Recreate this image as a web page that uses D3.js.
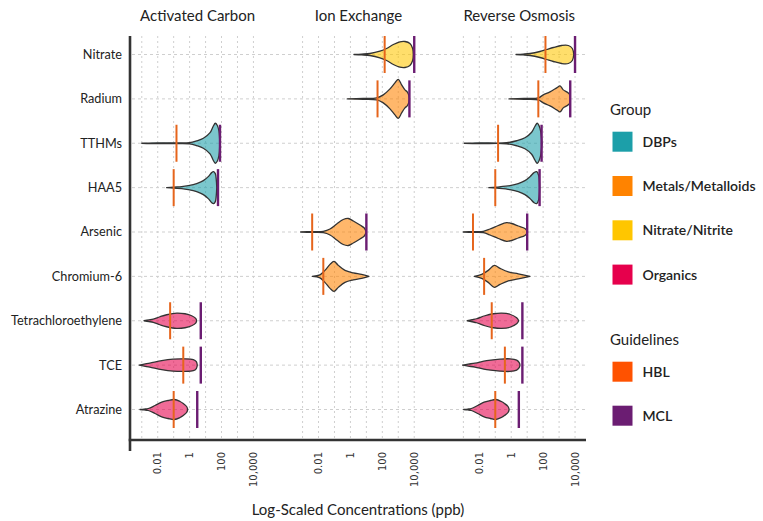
<!DOCTYPE html>
<html>
<head>
<meta charset="utf-8">
<script src="https://cdn.jsdelivr.net/npm/d3@7"></script>
<style>
  html, body { margin: 0; padding: 0; background: #fff; }
  svg { display: block; }
</style>
</head>
<body>
<svg id="chart" width="763" height="521"></svg>
<script>
// Treatment methods (facets) and contaminants (rows)
const treatments = ["Activated Carbon", "Ion Exchange", "Reverse Osmosis"];
const contaminants = ["Nitrate", "Radium", "TTHMs", "HAA5", "Arsenic",
  "Chromium-6", "Tetrachloroethylene", "TCE", "Atrazine"];
const contaminantGroup = ["Nitrate/Nitrite", "Metals/Metalloids", "DBPs", "DBPs",
  "Metals/Metalloids", "Metals/Metalloids", "Organics", "Organics", "Organics"];

const groupNames = ["DBPs", "Metals/Metalloids", "Nitrate/Nitrite", "Organics"];
const groupColors = ["#1c9fa9", "#ff8300", "#ffc600", "#e6004c"];

// Health-based limits and maximum contaminant levels (ppb)
const hblValues = [140, 50, 0.15, 0.1, 0.004, 0.02, 0.06, 0.4, 0.1];
const mclValues = [10000, 5000, 80, 60, 10, null, 5, 5, 3];
const guidelineNames = ["HBL", "MCL"];
const guidelineLegendColors = ["#ff5200", "#6b1d72"];
const guidelineLineColors = ["#e6651c", "#6b1d72"];

const tickValues = [0.01, 1, 100, 10000];
const gridValues = [0.001, 0.01, 0.1, 1, 10, 100, 1000, 10000];

// Density profiles after treatment: [log10 concentration (ppb), relative density]
const carbonProfiles = [
  ["TTHMs", [[-3.0, 0], [-2.0, 0.02], [-1.0, 0.02], [0.0, 0.03], [0.44, 0.12], [0.86, 0.25], [1.28, 0.53], [1.48, 0.85], [1.61, 1.0], [1.73, 0.9], [1.84, 0.6], [1.89, 0]]],
  ["HAA5", [[-1.44, 0], [-1.0, 0.03], [-0.5, 0.05], [-0.08, 0.1], [0.44, 0.2], [0.86, 0.35], [1.17, 0.55], [1.38, 0.75], [1.5, 0.8], [1.61, 0.7], [1.67, 0.4], [1.7, 0]]],
  ["Tetrachloroethylene", [[-2.86, 0], [-2.55, 0.04], [-2.28, 0.08], [-1.86, 0.2], [-1.44, 0.3], [-0.81, 0.385], [-0.29, 0.35], [0.13, 0.25], [0.38, 0.12], [0.44, 0]]],
  ["TCE", [[-3.16, 0], [-2.85, 0.05], [-2.49, 0.1], [-1.75, 0.225], [-1.03, 0.3], [-0.4, 0.315], [0.23, 0.28], [0.42, 0.17], [0.48, 0]]],
  ["Atrazine", [[-3.11, 0], [-2.85, 0.02], [-2.59, 0.05], [-2.17, 0.2], [-1.75, 0.37], [-1.34, 0.45], [-0.96, 0.5], [-0.6, 0.4], [-0.4, 0.3], [-0.19, 0.15], [-0.12, 0]]]
];
const ionExchangeProfiles = [
  ["Nitrate", [[0.22, 0], [0.7, 0.02], [1.22, 0.05], [1.85, 0.165], [2.27, 0.3], [2.69, 0.5], [3.1, 0.635], [3.42, 0.65], [3.73, 0.55], [3.9, 0.3], [3.94, 0]]],
  ["Radium", [[-0.2, 0], [0.8, 0.02], [1.64, 0.05], [2.06, 0.2], [2.48, 0.5], [2.79, 0.8], [3.0, 0.975], [3.21, 0.7], [3.42, 0.45], [3.56, 0.35], [3.65, 0.2], [3.69, 0]]],
  ["Arsenic", [[-3.12, 0], [-2.4, 0.02], [-1.7, 0.035], [-1.28, 0.15], [-0.86, 0.4], [-0.45, 0.625], [-0.13, 0.675], [0.18, 0.55], [0.6, 0.35], [0.87, 0.2], [0.99, 0]]],
  ["Chromium-6", [[-2.39, 0], [-1.91, 0.075], [-1.6, 0.3], [-1.28, 0.6], [-1.03, 0.75], [-0.76, 0.55], [-0.34, 0.3], [0.18, 0.175], [0.7, 0.1], [1.16, 0]]]
];
const reverseOsmosisProfiles = [
  ["Nitrate", [[0.3, 0], [0.75, 0.02], [1.18, 0.05], [1.8, 0.15], [2.22, 0.25], [2.64, 0.35], [3.16, 0.45], [3.58, 0.45], [3.83, 0.3], [3.92, 0]]],
  ["Radium", [[-0.14, 0], [0.8, 0.02], [1.7, 0.05], [2.01, 0.2], [2.43, 0.35], [2.85, 0.55], [3.06, 0.65], [3.26, 0.45], [3.48, 0.35], [3.64, 0.25], [3.7, 0]]],
  ["TTHMs", [[-2.94, 0], [-2.0, 0.02], [-0.29, 0.025], [0.34, 0.125], [0.86, 0.275], [1.28, 0.55], [1.49, 0.85], [1.63, 1.0], [1.8, 0.75], [1.93, 0]]],
  ["HAA5", [[-1.4, 0], [-0.9, 0.03], [-0.08, 0.1], [0.44, 0.2], [0.86, 0.35], [1.18, 0.55], [1.43, 0.75], [1.6, 0.8], [1.72, 0.6], [1.78, 0]]],
  ["Arsenic", [[-3.0, 0], [-2.4, 0.02], [-1.75, 0.035], [-1.33, 0.15], [-0.81, 0.325], [-0.29, 0.465], [0.03, 0.425], [0.44, 0.3], [0.86, 0.175], [1.03, 0]]],
  ["Chromium-6", [[-2.32, 0], [-1.85, 0.1], [-1.44, 0.3], [-1.06, 0.55], [-0.7, 0.4], [-0.18, 0.225], [0.44, 0.125], [1.17, 0]]],
  ["Tetrachloroethylene", [[-2.76, 0], [-2.45, 0.05], [-2.17, 0.1], [-1.65, 0.25], [-1.12, 0.35], [-0.6, 0.385], [-0.08, 0.325], [0.34, 0.15], [0.47, 0]]],
  ["TCE", [[-3.05, 0], [-2.7, 0.05], [-2.27, 0.1], [-1.54, 0.225], [-0.7, 0.3], [-0.08, 0.315], [0.34, 0.25], [0.5, 0.125], [0.55, 0]]],
  ["Atrazine", [[-2.98, 0], [-2.72, 0.02], [-2.5, 0.05], [-2.1, 0.2], [-1.7, 0.37], [-1.3, 0.45], [-0.96, 0.5], [-0.62, 0.4], [-0.42, 0.3], [-0.2, 0.15], [-0.13, 0]]]
];
const profilesByTreatment = [carbonProfiles, ionExchangeProfiles, reverseOsmosisProfiles];

const svg = d3.select("#chart");
const textFont = "Lato, 'Open Sans', sans-serif";

const plotTop = 36, plotBottom = 440, plotLeft = 130, plotRight = 586;

// Facet positions
const facet = d3.scaleBand().domain(treatments)
  .range([130.6, 586.2]).paddingInner(1 / 6).paddingOuter(0);

const xScales = treatments.map(t => d3.scaleLog()
  .domain([Math.pow(10, -3.7), Math.pow(10, 4.7)])
  .range([facet(t), facet(t) + facet.bandwidth()]));

const y = d3.scalePoint().domain(contaminants).range([54.5, 409.5]);
const halfWidth = d3.scaleLinear().domain([0, 1]).range([0, 20]);
const colorOf = d3.scaleOrdinal().domain(groupNames).range(groupColors);

// Grid
const grid = svg.append("g").attr("stroke", "#cfcfcf").attr("stroke-width", 1).attr("fill", "none");
xScales.forEach(x => {
  grid.selectAll(null).data(gridValues).enter().append("line")
    .attr("x1", d => x(d)).attr("x2", d => x(d))
    .attr("y1", plotTop).attr("y2", plotBottom)
    .attr("stroke-dasharray", "2,3");
});
grid.selectAll(null).data(contaminants).enter().append("line")
  .attr("x1", plotLeft + 2).attr("x2", plotRight)
  .attr("y1", d => y(d)).attr("y2", d => y(d))
  .attr("stroke-dasharray", "3,3");

// Violins and guideline markers
const guideHalf = 18.5;
treatments.forEach((t, ti) => {
  const x = xScales[ti];
  const g = svg.append("g");
  profilesByTreatment[ti].forEach(([name, profile]) => {
    const ci = contaminants.indexOf(name);
    const cy = y(name);
    const area = d3.area()
      .x(d => x(Math.pow(10, d[0])))
      .y0(d => cy - halfWidth(d[1]))
      .y1(d => cy + halfWidth(d[1]))
      .curve(d3.curveCatmullRom.alpha(0.5));
    g.append("path")
      .attr("d", area(profile))
      .attr("fill", colorOf(contaminantGroup[ci]))
      .attr("fill-opacity", 0.58)
      .attr("stroke", "#333")
      .attr("stroke-width", 1.3)
      .attr("stroke-linejoin", "round");
  });
  profilesByTreatment[ti].forEach(([name]) => {
    const ci = contaminants.indexOf(name);
    const cy = y(name);
    [hblValues[ci], mclValues[ci]].forEach((v, k) => {
      if (v == null) return;
      g.append("line")
        .attr("x1", x(v)).attr("x2", x(v))
        .attr("y1", cy - guideHalf).attr("y2", cy + guideHalf)
        .attr("stroke", guidelineLineColors[k])
        .attr("stroke-width", k === 0 ? 2 : 2.4);
    });
  });
});

// Facet titles
svg.selectAll(null).data(treatments).enter().append("text")
  .attr("x", d => facet(d) + facet.bandwidth() / 2)
  .attr("y", 21)
  .attr("text-anchor", "middle")
  .attr("font-family", textFont).attr("font-size", 15).attr("fill", "#222")
  .text(d => d);

// Y axis labels
svg.selectAll(null).data(contaminants).enter().append("text")
  .attr("x", 122).attr("y", d => y(d)).attr("dy", "0.35em")
  .attr("text-anchor", "end")
  .attr("font-family", textFont).attr("font-size", 12.7).attr("fill", "#222")
  .text(d => d);

// Axis lines
svg.append("line").attr("x1", plotLeft).attr("x2", plotLeft)
  .attr("y1", plotTop).attr("y2", 451)
  .attr("stroke", "#333").attr("stroke-width", 2.6);
svg.append("line").attr("x1", plotLeft - 1.3).attr("x2", plotRight)
  .attr("y1", plotBottom).attr("y2", plotBottom)
  .attr("stroke", "#333").attr("stroke-width", 2.6);

// X tick labels (rotated)
const fmt = d3.format(",");
xScales.forEach(x => {
  svg.selectAll(null).data(tickValues).enter().append("text")
    .attr("transform", d => `translate(${x(d)},452) rotate(-90)`)
    .attr("dy", "0.36em")
    .attr("text-anchor", "end")
    .attr("font-family", "'DejaVu Sans', sans-serif").attr("font-size", 10)
    .attr("fill", "#333")
    .text(d => fmt(d));
});

// X axis title
svg.append("text")
  .attr("x", 358).attr("y", 515)
  .attr("text-anchor", "middle")
  .attr("font-family", textFont).attr("font-size", 15).attr("fill", "#222")
  .text("Log-Scaled Concentrations (ppb)");

// Legends
const legend = svg.append("g").attr("font-family", textFont);
legend.append("text").attr("x", 610).attr("y", 115)
  .attr("font-size", 15).attr("fill", "#222").text("Group");
groupNames.forEach((name, i) => {
  const top = 131.7 + i * 44.3;
  legend.append("rect").attr("x", 612.5).attr("y", top).attr("width", 20).attr("height", 20)
    .attr("fill", groupColors[i]);
  legend.append("text").attr("x", 642.5).attr("y", top + 10).attr("dy", "0.35em")
    .attr("font-size", 14).attr("font-weight", 600).attr("fill", "#222").text(name);
});
legend.append("text").attr("x", 610).attr("y", 345)
  .attr("font-size", 15).attr("fill", "#222").text("Guidelines");
guidelineNames.forEach((name, i) => {
  const top = 361.7 + i * 44;
  legend.append("rect").attr("x", 612.5).attr("y", top).attr("width", 20).attr("height", 20)
    .attr("fill", guidelineLegendColors[i]);
  legend.append("text").attr("x", 642.5).attr("y", top + 10).attr("dy", "0.35em")
    .attr("font-size", 14).attr("font-weight", 600).attr("fill", "#222").text(name);
});
</script>
</body>
</html>
